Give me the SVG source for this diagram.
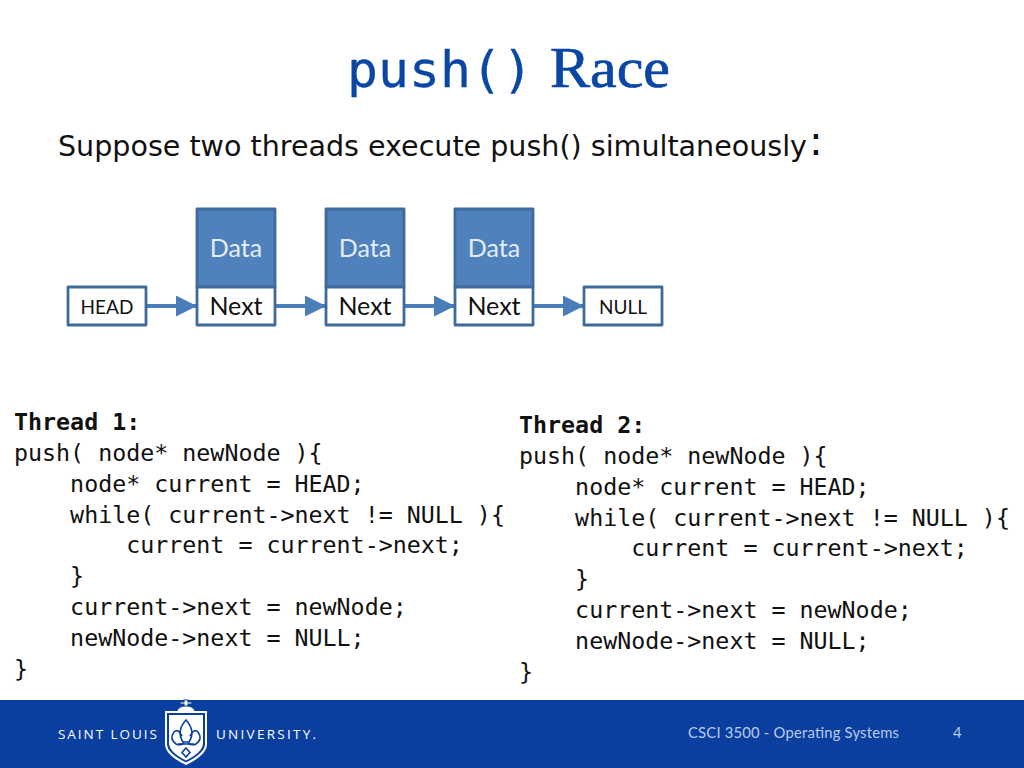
<svg xmlns="http://www.w3.org/2000/svg" width="1024" height="768" viewBox="0 0 1024 768">
<style>
.code{font-family:"DejaVu Sans Mono",monospace;font-size:23.3px;fill:#111;white-space:pre}
.code .b{font-weight:bold}
.box{fill:#fff;stroke:#3f6a9c;stroke-width:2.8;stroke-linejoin:round}
.data{fill:#4f81bd;stroke:#3f6a9c;stroke-width:2.8;stroke-linejoin:round}
.lbl{font-family:Lato,"Open Sans",sans-serif;text-anchor:middle}
.big{font-size:25px}
.small{font-size:19px;fill:#111}
.conn{stroke:#4a7ebb;stroke-width:4;fill:none;marker-end:url(#arrow)}
.foot{font-family:Lato,"Open Sans",sans-serif;font-size:14.8px;fill:#b9cbe8}
.logo{font-family:"Open Sans","Liberation Sans",sans-serif;font-size:13.5px;fill:#fff}
</style>
<defs>
<marker id="arrow" markerUnits="userSpaceOnUse" markerWidth="21" markerHeight="21" refX="21" refY="10.5" orient="auto"><path d="M0 0L21 10.5L0 21Z" fill="#4a7ebb"/></marker>
</defs>
<rect width="1024" height="768" fill="#fff"/>
<g id="title">
<text x="347" y="87" font-family="DejaVu Sans Mono,monospace" font-size="50" fill="#0a47a4" stroke="#0a47a4" stroke-width="0.3" textLength="186" lengthAdjust="spacingAndGlyphs">push()</text>
<text x="550" y="87" font-family="Liberation Serif,serif" font-size="56" fill="#0a47a4" stroke="#0a47a4" stroke-width="0.7" textLength="120" lengthAdjust="spacingAndGlyphs">Race</text>
</g>
<g id="subtitle">
<text x="58" y="156" font-family="DejaVu Sans,sans-serif" font-size="27.5" fill="#111" textLength="749" lengthAdjust="spacingAndGlyphs">Suppose two threads execute push() simultaneously</text>
<text x="809" y="155" font-family="DejaVu Sans,sans-serif" font-size="41" fill="#111">:</text>
</g>
<g id="connectors">
<line class="conn" x1="146" y1="306" x2="197" y2="306"/>
<line class="conn" x1="275" y1="306" x2="326" y2="306"/>
<line class="conn" x1="404" y1="306" x2="455" y2="306"/>
<line class="conn" x1="533" y1="306" x2="584" y2="306"/>
</g>
<g id="head"><rect class="box" x="68" y="287" width="78" height="38"/><text class="lbl small" x="107" y="313.500">HEAD</text></g>
<g id="node1"><rect class="data" x="197" y="209" width="78" height="78"/><text class="lbl big" x="236" y="257" fill="#e4ecf6">Data</text><rect class="box" x="197" y="287" width="78" height="38"/><text class="lbl big" x="236" y="315" fill="#111">Next</text></g>
<g id="node2"><rect class="data" x="326" y="209" width="78" height="78"/><text class="lbl big" x="365" y="257" fill="#e4ecf6">Data</text><rect class="box" x="326" y="287" width="78" height="38"/><text class="lbl big" x="365" y="315" fill="#111">Next</text></g>
<g id="node3"><rect class="data" x="455" y="209" width="78" height="78"/><text class="lbl big" x="494" y="257" fill="#e4ecf6">Data</text><rect class="box" x="455" y="287" width="78" height="38"/><text class="lbl big" x="494" y="315" fill="#111">Next</text></g>
<g id="null"><rect class="box" x="584" y="287" width="78" height="38"/><text class="lbl small" x="623" y="313.500">NULL</text></g>
<g id="thread1">
<text class="code" x="14" y="430"><tspan class="b">Thread 1:</tspan></text>
<text class="code" x="14" y="461">push( node* newNode ){</text>
<text class="code" x="14" y="492">    node* current = HEAD;</text>
<text class="code" x="14" y="523">    while( current-&gt;next != NULL ){</text>
<text class="code" x="14" y="553">        current = current-&gt;next;</text>
<text class="code" x="14" y="584">    }</text>
<text class="code" x="14" y="615">    current-&gt;next = newNode;</text>
<text class="code" x="14" y="646">    newNode-&gt;next = NULL;</text>
<text class="code" x="14" y="677">}</text>
</g>
<g id="thread2">
<text class="code" x="519" y="433"><tspan class="b">Thread 2:</tspan></text>
<text class="code" x="519" y="464">push( node* newNode ){</text>
<text class="code" x="519" y="495">    node* current = HEAD;</text>
<text class="code" x="519" y="526">    while( current-&gt;next != NULL ){</text>
<text class="code" x="519" y="556">        current = current-&gt;next;</text>
<text class="code" x="519" y="587">    }</text>
<text class="code" x="519" y="618">    current-&gt;next = newNode;</text>
<text class="code" x="519" y="649">    newNode-&gt;next = NULL;</text>
<text class="code" x="519" y="680">}</text>
</g>
<g id="footer">
<rect y="700" width="1024" height="68" fill="#0a3fa0"/>
<text class="logo" x="58" y="739" textLength="99">SAINT LOUIS</text>
<text class="logo" x="216" y="739" textLength="100">UNIVERSITY.</text>
<path d="M165 711H177Q178 706 184 706V704H180V702H184V700H188V702H192V704H188V706Q194 706 195 711H207V744Q207 755 186 765Q165 755 165 744Z" fill="#fff"/>
<path d="M184 706V704H180V702H184V700H188V702H192V704H188V706M177 711Q178 706 186 706Q194 706 195 711" fill="none" stroke="#0a3fa0" stroke-width="1.2"/>
<path d="M167 713H205V744Q205 753 186 762.500Q167 753 167 744Z" fill="#0a3fa0"/>
<path d="M169 715H203V743Q203 752 186 760.500Q169 752 169 743Z" fill="#fff"/>
<g fill="none" stroke="#0a3fa0" stroke-width="1.6">
<path d="M186 720Q196 731 189 742H183Q176 731 186 720Z"/>
<path d="M182 736Q178 728 174 732Q169 739 176 744Q180 746 184 743"/>
<path d="M190 736Q194 728 198 732Q203 739 196 744Q192 746 188 743"/>
<path d="M178 744H194M186 748L190 752.500L186 757L182 752.500Z"/>
</g>
<text class="foot" x="688" y="738" textLength="211">CSCI 3500 - Operating Systems</text>
<text class="foot" x="953" y="738">4</text>
</g>
</svg>
